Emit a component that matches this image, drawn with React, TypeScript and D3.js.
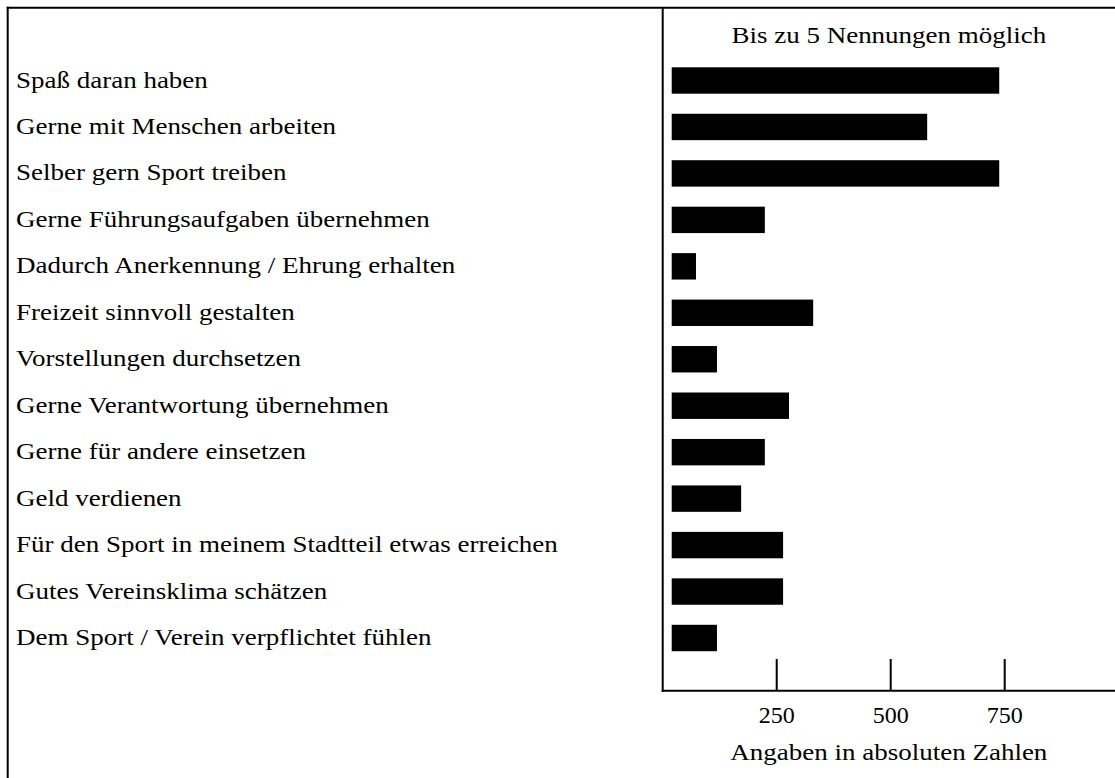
import { useEffect } from "react";
import { scaleLinear, scalePoint } from "d3";

const categories = [
  "Spaß daran haben",
  "Gerne mit Menschen arbeiten",
  "Selber gern Sport treiben",
  "Gerne Führungsaufgaben übernehmen",
  "Dadurch Anerkennung / Ehrung erhalten",
  "Freizeit sinnvoll gestalten",
  "Vorstellungen durchsetzen",
  "Gerne Verantwortung übernehmen",
  "Gerne für andere einsetzen",
  "Geld verdienen",
  "Für den Sport in meinem Stadtteil etwas erreichen",
  "Gutes Vereinsklima schätzen",
  "Dem Sport / Verein verpflichtet fühlen",
];
const values = [738, 580, 738, 224, 73, 330, 119, 277, 224, 172, 264, 264, 119];
const tickValues = [250, 500, 750];
const title = "Bis zu 5 Nennungen möglich";
const axisTitle = "Angaben in absoluten Zahlen";

const width = 1115;
const height = 778;
const textStyle = { fontFamily: "Liberation Serif", fontSize: 24 };
// the source text is a bit wider than the font, stretch it sideways
const stretch = 1.125;

export default function App() {
  useEffect(() => {
    document.body.style.margin = "0";
  }, []);

  let x = scaleLinear().domain([0, 1000]).range([662.7, 1118.7]);
  let y = scalePoint().domain(categories).range([80.5, 638]);
  let barH = 26.4;
  let barInset = 9;
  let axisY = 690.7;
  let frame = 7.7;

  return (
    <svg width={width} height={height}>
      {/* outer frame: top and left only */}
      <line x1={frame - 1} x2={width} y1={frame} y2={frame} stroke="#000" strokeWidth={2} />
      <line x1={frame} x2={frame} y1={frame - 1} y2={height} stroke="#000" strokeWidth={2} />

      <text
        transform={`translate(${(x(0) + width) / 2},43) scale(${stretch},1)`}
        textAnchor="middle"
        style={textStyle}
      >
        {title}
      </text>

      {categories.map((c, i) => (
        <g key={c}>
          <text transform={`translate(16,${y(c)! + 7}) scale(${stretch},1)`} style={textStyle}>
            {c}
          </text>
          <rect
            x={x(0) + barInset}
            y={y(c)! - barH / 2}
            width={x(values[i]) - x(0) - barInset}
            height={barH}
            fill="#000"
          />
        </g>
      ))}

      {/* axes */}
      <line x1={x(0)} x2={x(0)} y1={frame} y2={axisY + 1} stroke="#000" strokeWidth={2} />
      <line x1={x(0) - 1} x2={width} y1={axisY} y2={axisY} stroke="#000" strokeWidth={2} />
      {tickValues.map((t) => (
        <g key={t}>
          <line x1={x(t)} x2={x(t)} y1={659} y2={axisY} stroke="#000" strokeWidth={2} />
          <text x={x(t)} y={723} textAnchor="middle" style={textStyle}>
            {t}
          </text>
        </g>
      ))}
      <text
        transform={`translate(${(x(0) + width) / 2},760) scale(${stretch},1)`}
        textAnchor="middle"
        style={textStyle}
      >
        {axisTitle}
      </text>
    </svg>
  );
}
